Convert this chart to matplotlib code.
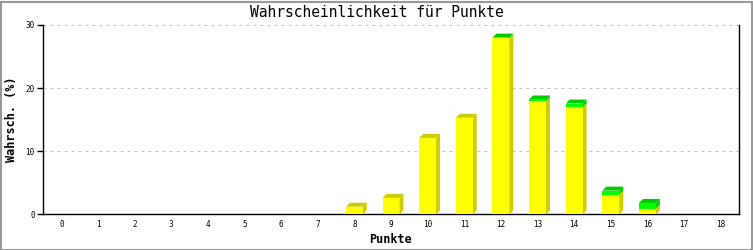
import matplotlib
matplotlib.use("Agg")
import matplotlib.pyplot as plt
from matplotlib.patches import Polygon, Rectangle
import numpy as np

points = list(range(19))
yellow = [0, 0, 0, 0, 0, 0, 0, 0, 1.2, 2.6, 12.1, 15.3, 27.9, 17.9, 17.0, 3.1, 0.9, 0, 0]
green = [0, 0, 0, 0, 0, 0, 0, 0, 0, 0, 0, 0, 0.1, 0.3, 0.55, 0.65, 0.9, 0, 0]
yticks = [0, 10, 20, 30]

title = "Wahrscheinlichkeit für Punkte"
xlabel = "Punkte"
ylabel = "Wahrsch. (%)"

W, H, DPI = 753, 250, 100
fig = plt.figure(figsize=(W / DPI, H / DPI), dpi=DPI)
fig.patch.set_facecolor("white")

L, R, T, B = 43, 739, 25, 214.3
ax = fig.add_axes([L / W, (H - B) / H, (R - L) / W, (B - T) / H])
ax.set_xlim(-0.5, 18.5)
ax.set_ylim(0, 30)

mono = "DejaVu Sans Mono"
bar_w = 0.46
x = np.array(points, dtype=float)
yv = np.array(yellow)
gv = np.array(green)

ax.bar(x, yv, width=bar_w, color="#ffff00", linewidth=0, zorder=3)
ax.bar(x, gv, bottom=yv, width=bar_w, color="#00ff00", linewidth=0, zorder=3)

# 3D depth in data units (4 px)
px_x = (R - L) / 19.0
px_y = (B - T) / 30.0
dx = 4.0 / px_x
dy = 4.0 / px_y

for xi, y0, g0 in zip(x, yv, gv):
    total = y0 + g0
    if total <= 0:
        continue
    xl, xr = xi - bar_w / 2, xi + bar_w / 2
    segs = [(0, y0, "#cccc00")]
    if g0 > 0:
        segs.append((y0, total, "#00cc00"))
    for b, t, c in segs:
        ax.add_patch(Polygon([(xr, b), (xr + dx, b + dy), (xr + dx, t + dy), (xr, t)],
                             closed=True, facecolor=c, edgecolor="none", zorder=2))
    capc = "#00cc00" if g0 > 0 else "#cccc00"
    ax.add_patch(Polygon([(xl, total), (xl + dx, total + dy), (xr + dx, total + dy), (xr, total)],
                         closed=True, facecolor=capc, edgecolor="none", zorder=2))

# grid
for yt in yticks[1:]:
    ax.axhline(yt, color="#c0c0c0", linewidth=0.72, linestyle=(0, (2.8, 4.2)), zorder=1)

ax.spines["top"].set_visible(False)
for s in ["left", "bottom", "right"]:
    ax.spines[s].set_color("black")
    ax.spines[s].set_linewidth(1.0)

ax.set_yticks(yticks)
ax.set_yticklabels([str(v) for v in yticks], fontfamily=mono, fontsize=5.5)
ax.set_xticks(points)
ax.set_xticklabels([str(p) for p in points], fontfamily=mono, fontsize=5.5)
ax.tick_params(axis="y", direction="out", length=4, width=1, pad=2)
ax.tick_params(axis="x", length=0, pad=4)

ax.set_xlabel(xlabel, fontfamily=mono, fontweight="bold", fontsize=8.5, labelpad=3)
ax.set_ylabel(ylabel, fontfamily=mono, fontweight="bold", fontsize=8.5, labelpad=5)

fig.text(0.5, 1 - 12.5 / H, title, ha="center", va="center",
         fontfamily=mono, fontweight="normal", fontsize=10.5)

# outer frame
fig.patches.append(Rectangle((0.5 / W, 0.5 / H), 1 - 2 / W, 1 - 2 / H, transform=fig.transFigure,
                             fill=False, edgecolor="#999999", linewidth=1.5))

fig.savefig("out.png", dpi=DPI, facecolor="white")
